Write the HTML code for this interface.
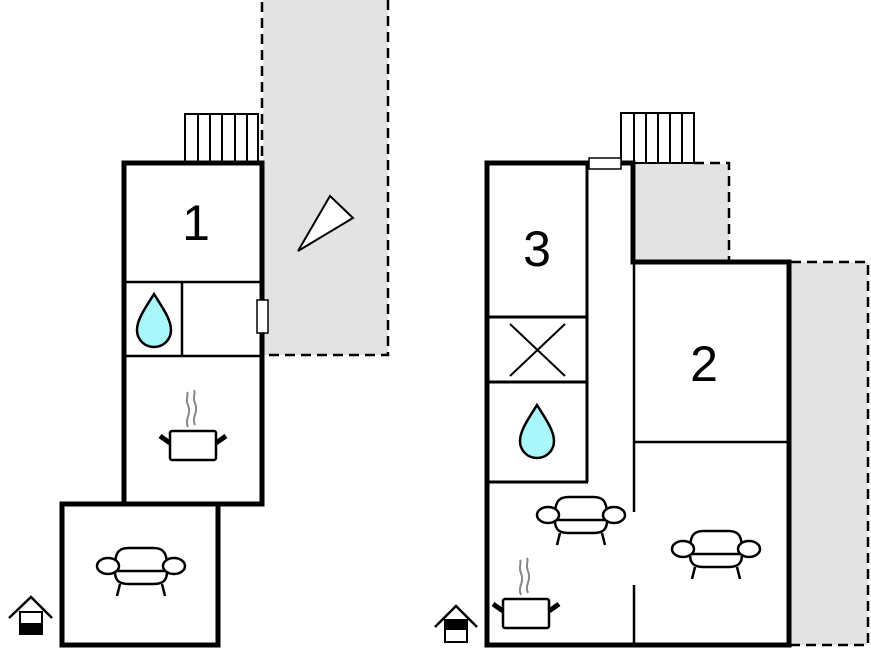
<!DOCTYPE html>
<html><head><meta charset="utf-8"><style>html,body{margin:0;padding:0;background:#fff}svg{display:block}</style></head>
<body>
<svg width="871" height="652" viewBox="0 0 871 652" xmlns="http://www.w3.org/2000/svg">
<defs>
<g id="sofa" fill="#fff" stroke="#000" stroke-width="2.5">
  <path d="M-26,0 C-26,-16 -20,-18 -12,-18 L12,-18 C20,-18 26,-16 26,0 L26,6 C26,16 20,18 12,18 L-12,18 C-20,18 -26,16 -26,6 Z"/>
  <line x1="-24" y1="5" x2="24" y2="5"/>
  <ellipse cx="-33" cy="0" rx="11" ry="8"/>
  <ellipse cx="33" cy="0" rx="11" ry="8"/>
  <line x1="-21" y1="18" x2="-24" y2="30"/>
  <line x1="21" y1="18" x2="24" y2="30"/>
</g>
<g id="drop"><path d="M0,-27 C-8,-14 -17,-2 -17,9 C-17,19 -9,26 0,26 C9,26 17,19 17,9 C17,-2 8,-14 0,-27 Z" fill="#aaf7fb" stroke="#000" stroke-width="2.5"/></g>
<g id="pot">
  <rect x="-23" y="0" width="46" height="29" rx="2" fill="#fff" stroke="#000" stroke-width="2.5"/>
  <line x1="-23" y1="12" x2="-33" y2="5" stroke="#000" stroke-width="5"/>
  <line x1="23" y1="12" x2="33" y2="5" stroke="#000" stroke-width="5"/>
  <path d="M-5,-4 C-9,-12 -1,-16 -5,-26 C-8,-32 -4,-36 -6,-39" fill="none" stroke="#888" stroke-width="2"/>
  <path d="M2,-6 C-2,-14 6,-18 2,-28 C-1,-34 3,-38 1,-41" fill="none" stroke="#888" stroke-width="2"/>
</g>
</defs>

<rect x="263" y="0" width="125" height="355" fill="#e3e3e3"/>
<path d="M262,2 L262,163 M388,0 L388,355 L265,355" fill="none" stroke="#000" stroke-width="2.5" stroke-dasharray="10,6"/>
<polygon points="330,196 353,218 298,251" fill="#fff" stroke="#000" stroke-width="2"/>

<rect x="185" y="114" width="73" height="49" fill="#fff" stroke="#000" stroke-width="2"/>
<path d="M198,114V163M210,114V163M222,114V163M235,114V163M247,114V163" stroke="#000" stroke-width="2"/>

<rect x="124" y="163" width="138" height="341" fill="#fff" stroke="#000" stroke-width="5"/>
<path d="M126,282H260M182,282V356M126,356H260" stroke="#000" stroke-width="2.5"/>
<rect x="257" y="300" width="11" height="33" fill="#fff" stroke="#000" stroke-width="1.5"/>
<rect x="62" y="504" width="156" height="141" fill="#fff" stroke="#000" stroke-width="5"/>
<text x="196" y="240" font-family="Liberation Sans, sans-serif" font-size="50" text-anchor="middle">1</text>
<use href="#drop" x="154" y="321"/>
<use href="#pot" x="193" y="431"/>
<use href="#sofa" x="141" y="566"/>

<path d="M9,618 L31,597 L52,618" fill="none" stroke="#000" stroke-width="2.5"/>
<rect x="20" y="612" width="22" height="22" fill="#fff" stroke="#000" stroke-width="2"/>
<rect x="19" y="623" width="24" height="12" fill="#000"/>

<rect x="636" y="164" width="93" height="98" fill="#e3e3e3"/>
<rect x="791" y="262" width="77" height="383" fill="#e3e3e3"/>
<path d="M694,163H729V262" fill="none" stroke="#000" stroke-width="2.5" stroke-dasharray="10,6"/>
<path d="M791,262H868V645H791" fill="none" stroke="#000" stroke-width="2.5" stroke-dasharray="10,6"/>

<rect x="621" y="113" width="73" height="50" fill="#fff" stroke="#000" stroke-width="2"/>
<path d="M634,113V163M646,113V163M658,113V163M670,113V163M682,113V163" stroke="#000" stroke-width="2"/>

<path d="M589,163H487V645H789V262H633V163H621" fill="#fff" stroke="#000" stroke-width="5"/>
<rect x="589" y="158" width="32" height="11" fill="#fff" stroke="#000" stroke-width="1.5"/>
<path d="M587,165V482M489,317H587M489,382H587M489,482H588" stroke="#000" stroke-width="3"/>
<path d="M634,262V512M634,585V643M634,442H787" stroke="#000" stroke-width="2.5"/>
<path d="M510,324L565,376M565,324L510,376" stroke="#000" stroke-width="2"/>
<text x="537" y="266" font-family="Liberation Sans, sans-serif" font-size="50" text-anchor="middle">3</text>
<text x="704" y="381" font-family="Liberation Sans, sans-serif" font-size="50" text-anchor="middle">2</text>
<use href="#drop" x="537" y="432"/>
<use href="#sofa" x="581" y="515"/>
<use href="#sofa" x="716" y="549"/>
<use href="#pot" x="526" y="599"/>

<path d="M435,627 L456,606 L477,627" fill="none" stroke="#000" stroke-width="2.5"/>
<rect x="445" y="620" width="22" height="22" fill="#fff" stroke="#000" stroke-width="2"/>
<rect x="444" y="619" width="24" height="11" fill="#000"/>
</svg>
</body></html>
